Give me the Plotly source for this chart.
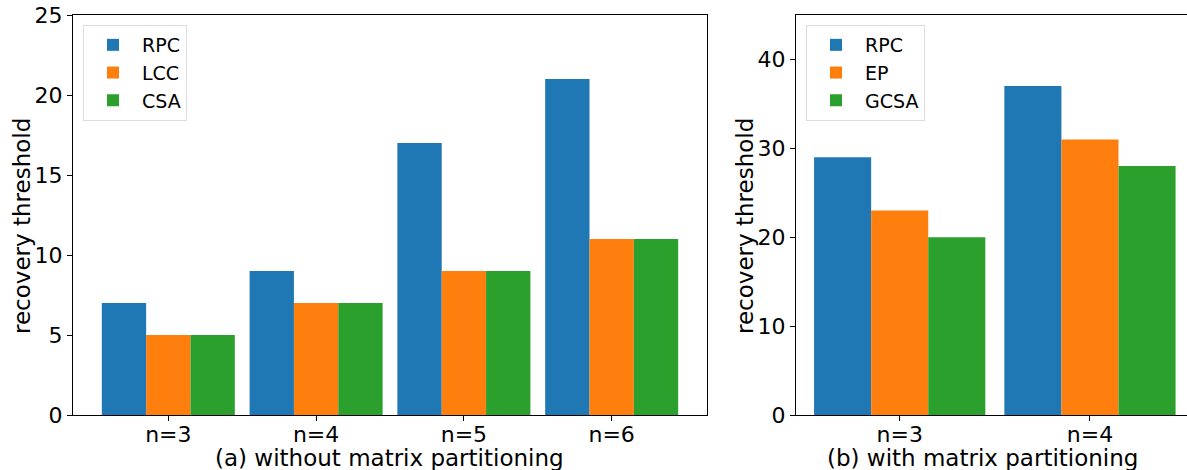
import plotly.graph_objects as go

W, H = 1187, 470

# Data
cats_a = ["n=3", "n=4", "n=5", "n=6"]
rpc_a = [7, 9, 17, 21]
lcc_a = [5, 7, 9, 11]
csa_a = [5, 7, 9, 11]

cats_b = ["n=3", "n=4"]
rpc_b = [29, 37]
ep_b = [23, 31]
gcsa_b = [20, 28]

C_BLUE, C_ORANGE, C_GREEN = "#1f77b4", "#ff7f0e", "#2ca02c"
FONT = "DejaVu Sans"
FS = 22
FT = 23

fig = go.Figure()
for name, vals, col in [("RPC", rpc_a, C_BLUE), ("LCC", lcc_a, C_ORANGE), ("CSA", csa_a, C_GREEN)]:
    fig.add_trace(go.Bar(x=list(range(len(cats_a))), y=vals, name=name, marker_color=col,
                         marker_line_width=0, xaxis="x", yaxis="y", legend="legend",
                         offsetgroup=name))
for name, vals, col in [("RPC", rpc_b, C_BLUE), ("EP", ep_b, C_ORANGE), ("GCSA", gcsa_b, C_GREEN)]:
    fig.add_trace(go.Bar(x=list(range(len(cats_b))), y=vals, name=name, marker_color=col,
                         marker_line_width=0, xaxis="x2", yaxis="y2", legend="legend2",
                         offsetgroup=name + "b"))

axis_common = dict(showline=True, linecolor="black", linewidth=1, ticks="outside",
                   ticklen=5, tickcolor="black", showgrid=False, zeroline=False,
                   tickfont=dict(family=FONT, size=FS, color="black"))

L0, L1 = 73 / W, 707 / W
R0 = 796 / W

fig.update_layout(
    width=W, height=H,
    margin=dict(l=0, r=0, t=15, b=55),
    paper_bgcolor="white", plot_bgcolor="white",
    barmode="group", bargap=0.1, bargroupgap=0,
    font=dict(family=FONT, size=FS, color="black"),
    xaxis=dict(domain=[L0, L1], range=[-0.645, 3.645], tickvals=list(range(len(cats_a))),
               ticktext=cats_a, mirror=True, anchor="y", ticklabelstandoff=-5, **axis_common),
    yaxis=dict(domain=[0, 1], range=[0, 25], dtick=5, mirror=True, anchor="x", **axis_common),
    xaxis2=dict(domain=[R0, 1.0], range=[-0.545, 1.51], tickvals=list(range(len(cats_b))),
                ticktext=cats_b, mirror=True, anchor="y2", ticklabelstandoff=-5, **axis_common),
    yaxis2=dict(domain=[0, 1], range=[0, 45], tickvals=[0, 10, 20, 30, 40], anchor="x2",
                **axis_common),
    legend=dict(x=83 / W, y=0.975, xanchor="left", yanchor="top",
                bgcolor="rgba(255,255,255,0.8)", bordercolor="#dddddd", borderwidth=1,
                font=dict(family=FONT, size=19), itemwidth=48),
    legend2=dict(x=806 / W, y=0.975, xanchor="left", yanchor="top",
                 bgcolor="rgba(255,255,255,0.8)", bordercolor="#dddddd", borderwidth=1,
                 font=dict(family=FONT, size=19), itemwidth=48),
)

# Axis titles as annotations (placed like the reference)
titles = [
    dict(text="(a) without matrix partitioning", x=389 / W, y=458, angle=0),
    dict(text="(b) with matrix partitioning", x=982 / W, y=458, angle=0),
    dict(text="recovery threshold", x=22 / W, y=226, angle=-90),
    dict(text="recovery threshold", x=745 / W, y=226, angle=-90),
]
for t in titles:
    fig.add_annotation(text=t["text"], xref="paper", yref="paper", x=t["x"],
                       y=(H - 55 - t["y"]) / 400,
                       xanchor="center", yanchor="middle", showarrow=False, textangle=t["angle"],
                       font=dict(family=FONT, size=FT, color="black"))

fig.write_html("out.html")
